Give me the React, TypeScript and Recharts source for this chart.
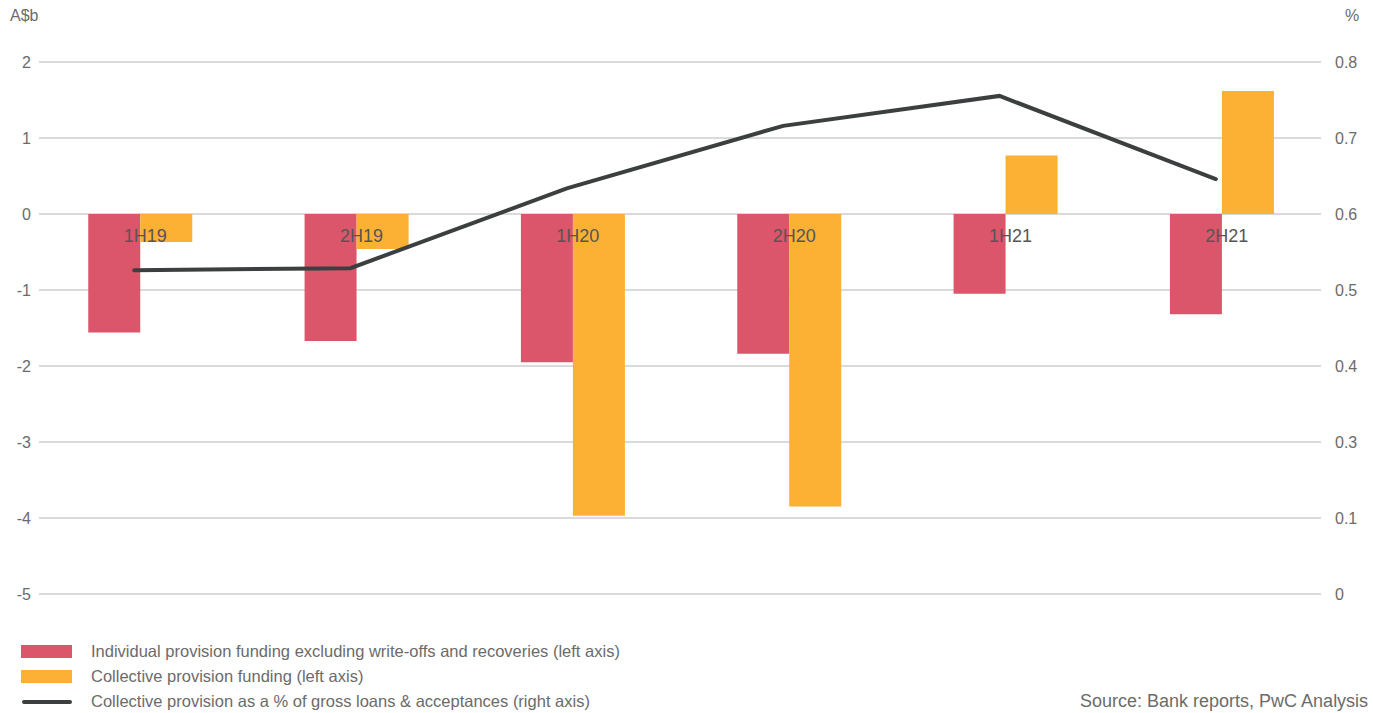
import React from "react";
import {
  ComposedChart,
  Bar,
  Line,
  XAxis,
  YAxis,
  CartesianGrid,
  LabelList,
} from "recharts";

const periods = ["1H19", "2H19", "1H20", "2H20", "1H21", "2H21"];
const individualFunding = [-1.56, -1.67, -1.95, -1.84, -1.05, -1.32];
const collectiveFunding = [-0.37, -0.46, -3.97, -3.85, 0.77, 1.62];
const collectiveRatio = [0.487, 0.49, 0.61, 0.704, 0.749, 0.624];

const leftTicks = [-5, -4, -3, -2, -1, 0, 1, 2];
// the right axis labels sit on the same gridlines as the left axis
const rightTickLabels = ["0", "0.1", "0.3", "0.4", "0.5", "0.6", "0.7", "0.8"];
const rightMax = 0.8;
const rightTicks = rightTickLabels.map((_, i) => (rightMax * i) / (rightTickLabels.length - 1));

const seriesNames = [
  "Individual provision funding excluding write-offs and recoveries (left axis)",
  "Collective provision funding (left axis)",
  "Collective provision as a % of gross loans & acceptances (right axis)",
];

const data = periods.map((period, i) => ({
  period,
  individual: individualFunding[i],
  collective: collectiveFunding[i],
  ratio: collectiveRatio[i],
}));

const FONT = "'Liberation Sans', Arial, sans-serif";
const TEXT = "#6b6b6b";
const RED = "#dc566b";
const ORANGE = "#fcb034";
const DARK = "#3c3f3f";
const GRID = "#dadada";

const legendItems = [
  { name: seriesNames[0], color: RED, type: "rect" },
  { name: seriesNames[1], color: ORANGE, type: "rect" },
  { name: seriesNames[2], color: DARK, type: "line" },
];

function GridLine(props: any) {
  // grid lines stop a little short of the plot edges
  return (
    <line
      x1={props.x1 + 7}
      y1={props.y1}
      x2={props.x2 - 9}
      y2={props.y2}
      stroke={GRID}
      strokeWidth={2}
    />
  );
}

function rightLabel(v: number) {
  const i = rightTicks.findIndex((t) => Math.abs(t - v) < 1e-6);
  return i >= 0 ? rightTickLabels[i] : "";
}

export default function App() {
  const tickStyle = { fill: TEXT, fontSize: 16, fontFamily: FONT };
  return (
    <div
      style={{
        position: "absolute",
        left: 0,
        top: 0,
        width: 1373,
        height: 713,
        background: "#fff",
        overflow: "hidden",
        fontFamily: FONT,
      }}
    >
      <div style={{ position: "absolute", left: 10, top: 7, fontSize: 16, color: TEXT }}>
        A$b
      </div>
      <div style={{ position: "absolute", left: 1345, top: 7, fontSize: 16, color: TEXT }}>
        %
      </div>
      <ComposedChart
        width={1373}
        height={713}
        data={data}
        margin={{ top: 62, right: 0, bottom: 119, left: 0 }}
        barCategoryGap="26%"
        barGap={0}
      >
        <CartesianGrid vertical={false} horizontal={GridLine} yAxisId="left" />
        <XAxis xAxisId="bars" dataKey="period" hide />
        <XAxis xAxisId="line" dataKey="period" hide padding={{ left: -6, right: 6 }} />
        <XAxis xAxisId="labels" dataKey="period" hide padding={{ left: 5, right: -5 }} />
        <YAxis
          yAxisId="left"
          domain={[-5, 2]}
          ticks={leftTicks}
          width={32}
          axisLine={false}
          tickLine={false}
          tickSize={0}
          tickMargin={1}
          tick={tickStyle}
        />
        <YAxis
          yAxisId="right"
          orientation="right"
          domain={[0, rightMax]}
          ticks={rightTicks}
          tickFormatter={rightLabel}
          width={43}
          axisLine={false}
          tickLine={false}
          tickSize={0}
          tickMargin={5}
          tick={tickStyle}
        />
        <Bar
          xAxisId="bars"
          yAxisId="left"
          dataKey="individual"
          name={seriesNames[0]}
          fill={RED}
          isAnimationActive={false}
        />
        <Bar
          xAxisId="bars"
          yAxisId="left"
          dataKey="collective"
          name={seriesNames[1]}
          fill={ORANGE}
          isAnimationActive={false}
        />
        <Line
          xAxisId="labels"
          yAxisId="left"
          dataKey={() => 0}
          stroke="none"
          dot={false}
          activeDot={false}
          legendType="none"
          isAnimationActive={false}
        >
          <LabelList
            dataKey="period"
            position="bottom"
            offset={15}
            fill="#555"
            fontSize={18}
            fontFamily={FONT}
          />
        </Line>
        <Line
          xAxisId="line"
          yAxisId="right"
          type="linear"
          dataKey="ratio"
          name={seriesNames[2]}
          stroke={DARK}
          strokeWidth={4}
          strokeLinecap="round"
          dot={false}
          activeDot={false}
          isAnimationActive={false}
        />
      </ComposedChart>
      <div
        style={{
          position: "absolute",
          left: 21,
          top: 639,
          fontSize: 16.5,
          color: TEXT,
        }}
      >
        {legendItems.map((item) => (
          <div key={item.name} style={{ display: "flex", alignItems: "center", height: 25 }}>
            <svg width={70} height={14} style={{ display: "block" }}>
              {item.type === "line" ? (
                <line
                  x1={3}
                  y1={7}
                  x2={49}
                  y2={7}
                  stroke={item.color}
                  strokeWidth={4}
                  strokeLinecap="round"
                />
              ) : (
                <rect x={0} y={0} width={51} height={13} fill={item.color} />
              )}
            </svg>
            <span>{item.name}</span>
          </div>
        ))}
      </div>
      <div
        style={{
          position: "absolute",
          left: 1080,
          top: 691,
          fontSize: 18,
          lineHeight: "20px",
          color: TEXT,
          whiteSpace: "nowrap",
        }}
      >
        Source: Bank reports, PwC Analysis
      </div>
    </div>
  );
}
